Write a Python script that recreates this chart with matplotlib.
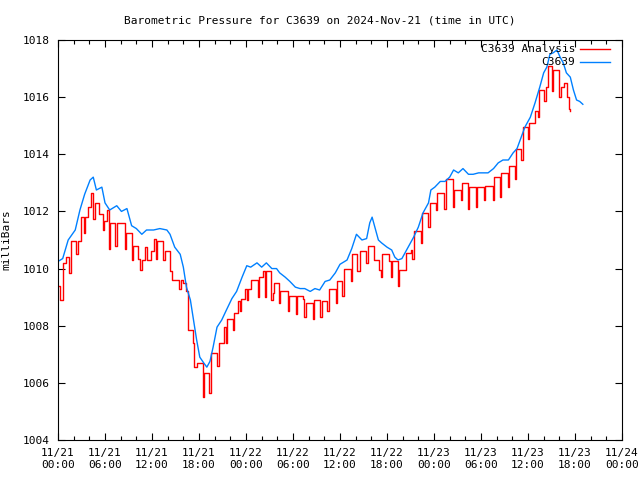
import numpy as np
import matplotlib.pyplot as plt

# --- datos (horas desde 11/21 00:00 UTC, milibares) ---
obs_horas = [0.0, 0.6, 1.3, 2.2, 2.8, 3.4, 4.1, 4.5, 4.9, 5.6, 6.0, 6.6, 7.5, 8.1, 8.8,
             9.4, 10.0, 10.7, 11.3, 12.2, 13.0, 13.9, 14.3, 14.9, 15.6, 16.0, 16.4, 16.9,
             17.3, 17.7, 18.1, 18.6, 19.0, 19.4, 19.8, 20.3, 20.9, 21.5, 22.2, 22.8, 23.5,
             24.1, 24.6, 25.4, 26.0, 26.6, 27.3, 27.9, 28.3, 29.0, 29.6, 30.3, 30.9, 31.5,
             32.2, 32.8, 33.4, 34.1, 34.7, 35.4, 36.0, 36.9, 37.5, 38.1, 38.8, 39.4, 39.8,
             40.1, 40.5, 40.9, 41.3, 42.0, 42.6, 43.0, 43.4, 43.9, 44.3, 44.7, 45.4, 46.0,
             46.6, 47.3, 47.6, 48.1, 48.8, 49.4, 50.0, 50.5, 51.1, 51.7, 52.4, 53.0, 53.7,
             54.3, 54.9, 55.6, 56.2, 56.8, 57.5, 58.1, 58.6, 59.0, 59.6, 60.3, 60.9, 61.5,
             62.0, 62.4, 62.8, 63.2, 63.7, 64.1, 64.5, 64.9, 65.4, 65.8, 66.2, 66.6, 67.0]
obs_mb = [1010.25, 1010.35, 1011.0, 1011.35, 1012.05, 1012.6, 1013.1, 1013.2, 1012.75,
          1012.85, 1012.3, 1012.05, 1012.2, 1012.0, 1012.1, 1011.5, 1011.4, 1011.2, 1011.35,
          1011.35, 1011.4, 1011.35, 1011.2, 1010.75, 1010.5, 1010.05, 1009.35, 1008.9,
          1008.2, 1007.5, 1006.9, 1006.7, 1006.55, 1006.75, 1007.25, 1007.95, 1008.2,
          1008.55, 1008.95, 1009.2, 1009.7, 1010.1, 1010.05, 1010.2, 1010.05, 1010.2,
          1010.0, 1010.0, 1009.85, 1009.7, 1009.55, 1009.35, 1009.3, 1009.3, 1009.2,
          1009.3, 1009.25, 1009.55, 1009.6, 1009.85, 1010.15, 1010.3, 1010.7, 1011.2,
          1011.0, 1011.05, 1011.6, 1011.8, 1011.4, 1011.0, 1010.9, 1010.75, 1010.65,
          1010.4, 1010.3, 1010.35, 1010.55, 1010.75, 1011.1, 1011.45, 1011.95, 1012.3,
          1012.75, 1012.85, 1013.05, 1013.05, 1013.2, 1013.45, 1013.35, 1013.5, 1013.3,
          1013.3, 1013.35, 1013.35, 1013.35, 1013.5, 1013.7, 1013.8, 1013.8, 1014.05,
          1014.2, 1014.5, 1014.95, 1015.3, 1015.8, 1016.35, 1016.85, 1017.05, 1017.5,
          1017.55, 1017.65, 1017.4, 1017.2, 1016.85, 1016.7, 1016.25, 1015.9, 1015.85,
          1015.75]

ana_horas = [0.0, 0.25, 0.6, 1.0, 1.4, 1.6, 2.3, 2.5, 2.9, 3.3, 3.5, 3.8, 4.2, 4.5, 4.7,
             5.2, 5.7, 5.9,
             6.2, 6.5, 6.7, 7.3, 7.5, 8.5, 8.7, 9.4, 9.6, 10.2, 10.5, 10.7, 11.1, 11.4, 11.9,
             12.2, 12.5, 12.7, 13.4, 13.6, 14.3, 14.6, 15.5, 15.7, 16.0, 16.4, 16.6, 17.2,
             17.4, 17.8,
             18.45, 18.6, 19.3, 19.5, 20.3, 20.5, 21.2, 21.4, 21.55, 22.3, 22.45, 23.0,
             23.2, 23.35, 23.9,
             24.1, 24.3, 24.6, 25.5, 25.7, 26.2, 26.4, 26.6, 27.2, 27.4, 27.6, 28.2, 28.4,
             29.3, 29.45,
             30.4, 30.55, 31.3, 31.45, 31.6, 32.5, 32.65, 33.5, 33.65, 34.4, 34.6, 35.5,
             35.65,
             36.3, 36.5, 37.4, 37.55, 38.2, 38.5, 39.3, 39.6, 40.4, 41.0, 41.2, 41.4,
             42.3, 42.5, 42.65, 43.35, 43.55, 44.4, 45.0, 45.25, 45.5, 46.3, 46.5, 47.25,
             47.55,
             48.2, 48.35, 49.3, 49.55, 50.4, 50.55, 51.4, 51.55, 52.3, 52.45, 53.3, 53.45,
             54.4, 54.55, 55.5, 55.65, 56.4, 56.55, 57.4, 57.55, 58.35, 58.5, 59.15, 59.35,
             59.95, 60.1,
             60.9, 61.3, 61.45, 62.1, 62.3, 62.5, 63.1, 63.25, 64.0, 64.2, 64.6, 65.0, 65.2,
             65.4]
ana_mb = [1009.4, 1008.9, 1010.2, 1010.4, 1009.85, 1010.95, 1010.5, 1010.95, 1011.8,
          1011.25, 1011.8, 1012.15, 1012.65, 1011.75, 1012.3, 1011.9, 1011.35, 1011.65,
          1012.05, 1010.7, 1011.6, 1010.8, 1011.6, 1010.7, 1011.25, 1010.3, 1010.8,
          1010.35, 1009.95, 1010.3, 1010.75, 1010.3, 1010.6,
          1011.05, 1010.35, 1010.95, 1010.3, 1010.6, 1009.9, 1009.6, 1009.3, 1009.6,
          1009.5, 1009.2, 1007.85, 1007.4, 1006.55, 1006.7,
          1005.5, 1006.35, 1005.65, 1007.05, 1006.6, 1007.4, 1007.95, 1007.4, 1008.25,
          1007.85, 1008.45, 1008.85, 1008.5, 1008.95, 1009.3,
          1008.9, 1009.3, 1009.6, 1009.0, 1009.7, 1009.9, 1009.0, 1009.9, 1008.9, 1009.15,
          1009.5, 1008.8, 1009.2, 1008.5, 1009.05,
          1008.4, 1009.05, 1008.95, 1008.3, 1008.8, 1008.25, 1008.9, 1008.3, 1008.85,
          1008.5, 1009.3, 1008.8, 1009.55,
          1009.05, 1010.0, 1009.55, 1010.5, 1009.9, 1010.6, 1010.2, 1010.8, 1010.3,
          1009.95, 1009.7, 1010.5,
          1010.25, 1009.7, 1010.25, 1009.4, 1009.95, 1010.55, 1010.65, 1010.35, 1011.3,
          1010.9, 1011.95, 1011.45, 1012.3,
          1012.05, 1012.65, 1012.1, 1013.15, 1012.15, 1012.75, 1012.4, 1013.0, 1012.1,
          1012.85, 1012.15, 1012.85,
          1012.4, 1012.9, 1012.4, 1013.2, 1012.5, 1013.35, 1012.85, 1013.6, 1013.15,
          1014.2, 1013.8, 1014.95, 1014.55, 1015.1,
          1015.5, 1015.3, 1016.25, 1015.85, 1016.35, 1017.1, 1016.2, 1016.95, 1016.0,
          1016.35, 1016.5, 1016.0, 1015.6, 1015.5]

etiquetas_x = ["11/21\n00:00", "11/21\n06:00", "11/21\n12:00", "11/21\n18:00",
               "11/22\n00:00", "11/22\n06:00", "11/22\n12:00", "11/22\n18:00",
               "11/23\n00:00", "11/23\n06:00", "11/23\n12:00", "11/23\n18:00",
               "11/24\n00:00"]

plt.rcParams['font.family'] = ['DejaVu Sans Mono']
plt.rcParams['font.size'] = 8

fig = plt.figure(figsize=(6.4, 4.8), dpi=100)
ax = fig.add_axes([58/640, 40/480, 564/640, 400/480])

ax.plot(ana_horas, ana_mb, color='#ff0000', lw=1.0, drawstyle='steps-post')
ax.plot(obs_horas, obs_mb, color='#0080ff', lw=1.0)

ax.set_xlim(0, 72)
ax.set_ylim(1004, 1018)
ax.set_xticks(np.arange(0, 73, 6))
ax.set_xticks(np.arange(0, 73, 2), minor=True)
ax.set_xticklabels(etiquetas_x)
ax.set_yticks(np.arange(1004, 1019, 2))
ax.tick_params(which='both', direction='in', top=True, right=True, width=0.8)
ax.tick_params(which='major', length=5, pad=6)
ax.tick_params(which='minor', length=3)
for s in ax.spines.values():
    s.set_linewidth(0.8)

ax.set_ylabel("milliBars", labelpad=8)
fig.text(0.5, 0.958, "Barometric Pressure for C3639 on 2024-Nov-21 (time in UTC)",
         ha='center', va='center')

# leyenda estilo gnuplot (texto alineado a la derecha)
ax.text(0.917, 0.9775, "C3639 Analysis", transform=ax.transAxes, ha='right', va='center')
ax.plot([0.926, 0.979], [0.9775, 0.9775], transform=ax.transAxes, color='#ff0000', lw=1.0)
ax.text(0.917, 0.945, "C3639", transform=ax.transAxes, ha='right', va='center')
ax.plot([0.926, 0.979], [0.945, 0.945], transform=ax.transAxes, color='#0080ff', lw=1.0)

plt.savefig("out.png", dpi=100)
